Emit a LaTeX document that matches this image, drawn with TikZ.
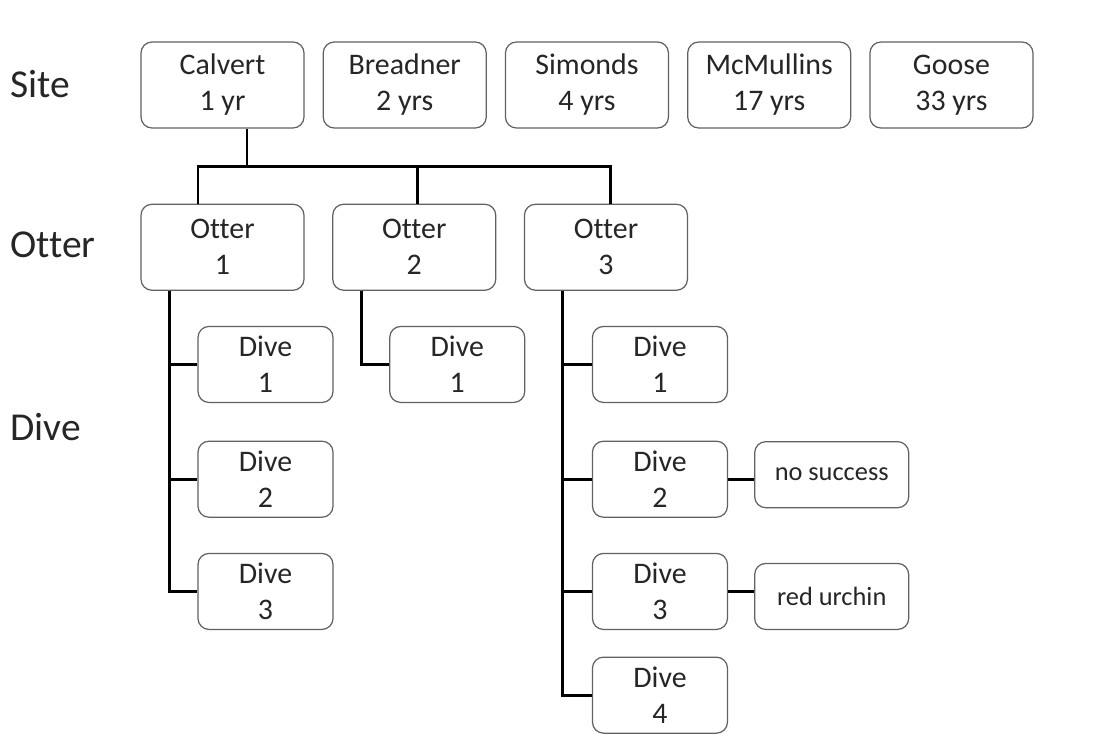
\documentclass[tikz,border=0pt]{standalone}
\usepackage{fontspec}
\setmainfont{Carlito}[Ligatures=NoCommon]
\usetikzlibrary{calc,positioning}

\begin{document}
\begin{tikzpicture}[
  box/.style={draw=black!62,line width=0.7pt,rounded corners=0.22cm,align=center,
    text=black!85,font=\fontsize{17}{20.5}\selectfont,inner sep=0pt},
  sitebox/.style={box,minimum width=3.26cm,minimum height=1.72cm},
  divebox/.style={box,minimum width=2.7cm,minimum height=1.52cm},
  endbox/.style={box,minimum width=3.08cm,minimum height=1.32cm,
    font=\fontsize{15}{17}\selectfont},
  level/.style={anchor=base west,text=black!85,inner sep=0pt,
    font=\fontsize{22.5}{27}\selectfont},
  link/.style={line width=1.7pt}]
\useasboundingbox (0,0) rectangle (22.2,-14.72);
% level names
\node[level] (lsite) at (0.2,-1.94) {Site};
\node[level] (lotter) at (0.2,-5.14) {Otter};
\node[level] (ldive) at (0.2,-8.8) {Dive};
% sites
\node[sitebox] (calv) at (4.45,-1.70) {Calvert\\1 yr};
\node[sitebox,right=0.36cm of calv] (bread) {Breadner\\2 yrs};
\node[sitebox,right=0.36cm of bread] (sim) {Simonds\\4 yrs};
\node[sitebox,right=0.36cm of sim] (mcm) {McMullins\\17 yrs};
\node[sitebox,right=0.36cm of mcm] (goose) {Goose\\33 yrs};
% otters
\node[sitebox,below=1.5cm of calv] (ot1) {Otter\\1};
\node[sitebox,right=0.55cm of ot1] (ot2) {Otter\\2};
\node[sitebox,right=0.55cm of ot2] (ot3) {Otter\\3};
% dives
\node[divebox,below right=0.7cm and 1.14cm of ot1.south west] (d11) {Dive\\1};
\node[divebox,below=0.75cm of d11] (d12) {Dive\\2};
\node[divebox,below=0.7cm of d12] (d13) {Dive\\3};
\node[divebox,below right=0.7cm and 1.14cm of ot2.south west] (d21) {Dive\\1};
\node[divebox,below right=0.7cm and 1.36cm of ot3.south west] (d31) {Dive\\1};
\node[divebox,below=0.75cm of d31] (d32) {Dive\\2};
\node[divebox,below=0.7cm of d32] (d33) {Dive\\3};
\node[divebox,below=0.53cm of d33] (d34) {Dive\\4};
% outcomes
\node[endbox,right=0.52cm of d32,yshift=0.09cm] (nosucc) {no success};
\node[endbox,right=0.52cm of d33,yshift=-0.1cm] (urchin) {red urchin};
% site to otters
\coordinate (top) at ($(calv.south)+(0.49,0)$);
\coordinate (bus) at ($(calv.south)!0.5!(ot1.north)$);
\coordinate (t1) at ($(ot1.north)+(-0.49,0)$);
\coordinate (t2) at ($(ot2.north)+(0.07,0)$);
\coordinate (t3) at ($(ot3.north)+(0.09,0)$);
\draw[link] (top) -- (top |- bus);
\draw[link] (t1) -- (t1 |- bus) -- (t3 |- bus) -- (t3);
\draw[link] (t2) -- (t2 |- bus);
% otters to dives
\coordinate (s1) at ($(d11.west)+(-0.55,0)$);
\coordinate (s2) at ($(d21.west)+(-0.56,0)$);
\coordinate (s3) at ($(d31.west)+(-0.58,0)$);
\draw[link] (ot1.south -| s1) |- (d13.west);
\draw[link] (s1) -- (d11.west);
\draw[link] (s1 |- d12.west) -- (d12.west);
\draw[link] (ot2.south -| s2) |- (d21.west);
\draw[link] (ot3.south -| s3) |- (d34.west);
\draw[link] (s3) -- (d31.west);
\draw[link] (s3 |- d32.west) -- (d32.west);
\draw[link] (s3 |- d33.west) -- (d33.west);
% dives to outcomes
\draw[link] (d32.east) -- (d32.east -| nosucc.west);
\draw[link] (d33.east) -- (d33.east -| urchin.west);
\end{tikzpicture}
\end{document}
